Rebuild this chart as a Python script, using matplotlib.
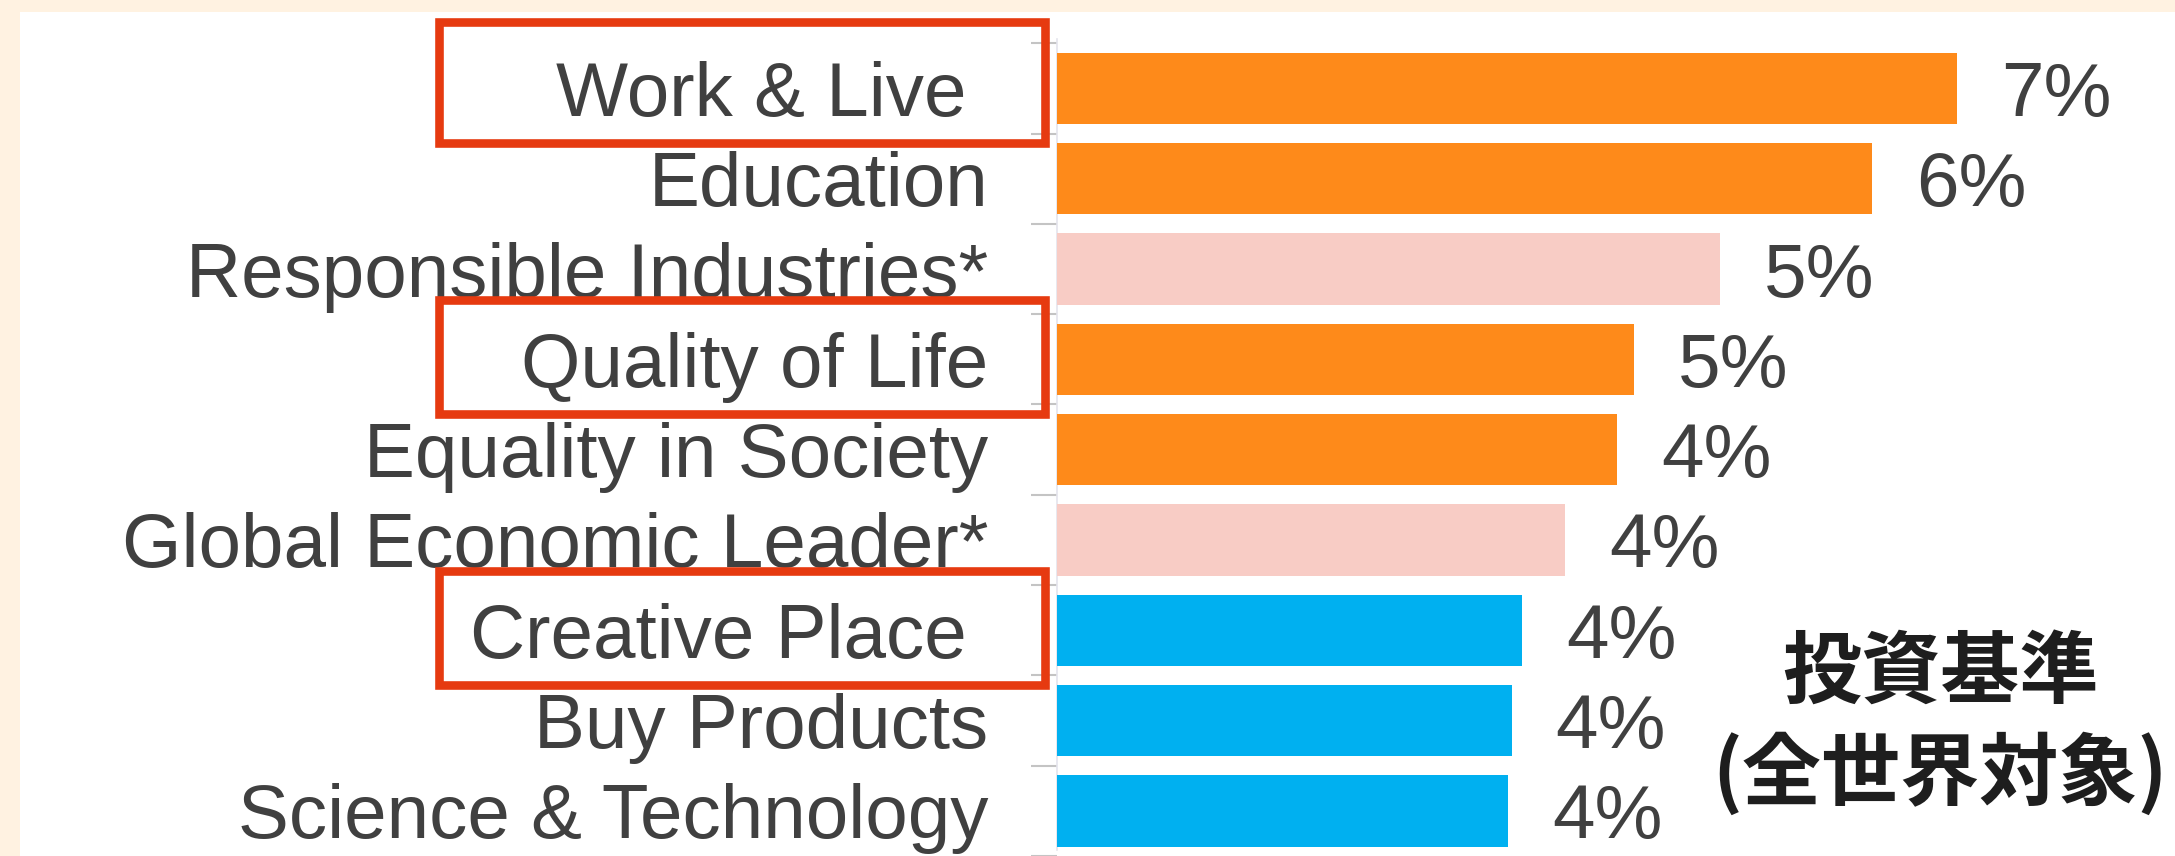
import matplotlib
matplotlib.use("Agg")
import matplotlib.pyplot as plt
from matplotlib.patches import Rectangle
from matplotlib.transforms import blended_transform_factory

# ---- data ----
categories = [
    "Work & Live ",
    "Education",
    "Responsible Industries*",
    "Quality of Life",
    "Equality in Society",
    "Global Economic Leader*",
    "Creative Place ",
    "Buy Products",
    "Science & Technology",
]
values = [7.09, 6.42, 5.22, 4.54, 4.41, 4.00, 3.66, 3.58, 3.55]
groups = ["orange", "orange", "pink", "orange", "orange", "pink", "blue", "blue", "blue"]
highlighted = ["Work & Live ", "Quality of Life", "Creative Place "]
note_lines = ["投資基準", "(全世界対象)"]

group_colors = {"orange": "#FE8A1A", "pink": "#F8CCC5", "blue": "#00B0F0"}
CREAM = "#FFF2E1"
TEXT = "#404040"
RED = "#E63A10"

W, H, DPI = 2175, 856, 100
fig = plt.figure(figsize=(W / DPI, H / DPI), dpi=DPI, facecolor=CREAM)

# white panel
fig.patches.append(Rectangle((20 / W, 0), 1 - 20 / W, 1 - 12 / H,
                             transform=fig.transFigure, facecolor="white",
                             edgecolor="none", zorder=-5))

ax = fig.add_axes([1057 / W, 0, 1 - 1057 / W, 1])
ax.set_facecolor("none")
ax.set_zorder(2)

ypos = list(range(len(categories)))
ax.barh(ypos, values, height=0.79, color=[group_colors[g] for g in groups],
        zorder=3)

ax.set_xlim(0, 1118 / 127)
ax.set_ylim(8.438, -0.979)

ax.set_yticks(ypos)
ax.set_yticklabels(categories, fontsize=55, color=TEXT,
                   family=["Liberation Sans", "DejaVu Sans"])
ax.set_yticks([k + 0.5 for k in range(-1, len(categories))], minor=True)
ax.tick_params(axis="y", which="major", length=0, pad=49.5)
ax.tick_params(axis="y", which="minor", length=19, width=1.5, color="#C4C4C4")
ax.set_xticks([])

for s in ["top", "right", "bottom"]:
    ax.spines[s].set_visible(False)
ax.spines["left"].set_color("#E4E4EC")
ax.spines["left"].set_linewidth(1.2)
ax.spines["left"].set_bounds(-0.55, 8.438)

for y, v in zip(ypos, values):
    ax.annotate(f"{round(v)}%", xy=(v, y), xytext=(31.7, -19.8),
                textcoords="offset points", ha="left", va="baseline",
                fontsize=55, color=TEXT, family=["Liberation Sans", "DejaVu Sans"],
                zorder=4)

# red highlight boxes
trans = blended_transform_factory(fig.transFigure, ax.transData)
for name in highlighted:
    k = categories.index(name)
    top = -0.74 if k == 0 else -0.66
    rect = Rectangle((439 / W, k + top), (1045 - 439) / W, 0.61 - top,
                     transform=trans, fill=False, edgecolor=RED,
                     linewidth=6.2, clip_on=False, zorder=5)
    ax.add_patch(rect)

# Japanese note
fig.text(1940 / W, 1 - 673 / H, note_lines[0], ha="center", va="center",
         fontsize=57, fontweight="bold", color="#1E1E1E", zorder=10,
         family=["Noto Sans CJK JP", "DejaVu Sans"])
fig.text(1940 / W, 1 - 774 / H, note_lines[1], ha="center", va="center",
         fontsize=57, fontweight="bold", color="#1E1E1E", zorder=10,
         family=["Noto Sans CJK JP", "DejaVu Sans"])

fig.savefig("out.png", dpi=DPI, facecolor=CREAM)
